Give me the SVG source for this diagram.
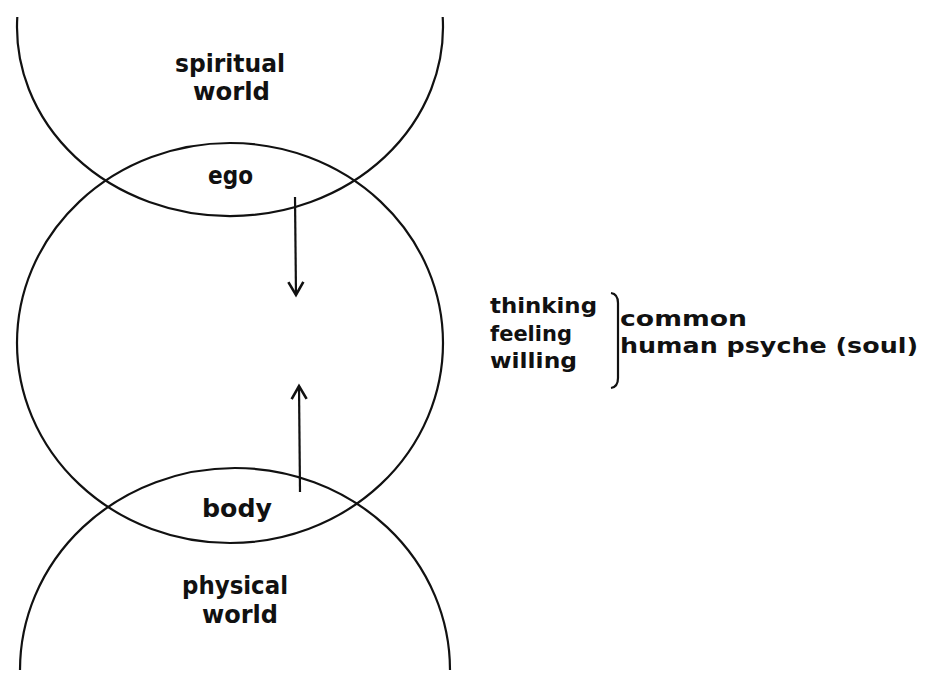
<svg xmlns="http://www.w3.org/2000/svg" width="925" height="675" viewBox="0 0 925 675">
  <style>
    .ln { fill: none; stroke: #111; stroke-width: 2.2; }
    .lbl { font-family: "DejaVu Sans", "Liberation Sans", sans-serif; font-weight: bold; fill: #111; font-size: 24px; }
    .sm { font-size: 22px; }
  </style>
  <defs>
    <marker id="ah" viewBox="-16 -10 20 20" refX="0" refY="0" markerWidth="20" markerHeight="20" orient="auto" markerUnits="userSpaceOnUse">
      <path d="M-13,-7.5 L0,0 L-13,7.5" fill="none" stroke="#111" stroke-width="2.6"/>
    </marker>
  </defs>
  <rect width="925" height="675" fill="#fff"/>

  <g id="spiritual-world">
    <path class="ln" d="M17.3,17 A213,189 0 1 0 442.7,17"/>
    <text class="lbl" x="175" y="72" textLength="110" lengthAdjust="spacingAndGlyphs">spiritual</text>
    <text class="lbl" x="193" y="100" textLength="77" lengthAdjust="spacingAndGlyphs">world</text>
  </g>

  <g id="psyche">
    <ellipse class="ln" cx="230" cy="343" rx="213" ry="200"/>
  </g>

  <g id="ego">
    <text class="lbl" x="208" y="184" textLength="45" lengthAdjust="spacingAndGlyphs">ego</text>
  </g>

  <g id="body">
    <text class="lbl" x="202" y="517" textLength="70" lengthAdjust="spacingAndGlyphs">body</text>
  </g>

  <g id="physical-world">
    <path class="ln" d="M20,670 A215,202 0 1 1 450,670"/>
    <text class="lbl" x="182" y="594" textLength="106" lengthAdjust="spacingAndGlyphs">physical</text>
    <text class="lbl" x="202" y="623" textLength="76" lengthAdjust="spacingAndGlyphs">world</text>
  </g>

  <g id="soul-legend">
    <text class="lbl sm" x="490" y="313" textLength="107" lengthAdjust="spacingAndGlyphs">thinking</text>
    <text class="lbl sm" x="490" y="341" textLength="82" lengthAdjust="spacingAndGlyphs">feeling</text>
    <text class="lbl sm" x="490" y="368" textLength="87" lengthAdjust="spacingAndGlyphs">willing</text>
    <path class="ln" d="M611,293 Q618,294 618,303 L618,378 Q618,387 611,388"/>
    <text class="lbl sm" x="620" y="326" textLength="127" lengthAdjust="spacingAndGlyphs">common</text>
    <text class="lbl sm" x="620" y="353" textLength="298" lengthAdjust="spacingAndGlyphs">human psyche (soul)</text>
  </g>

  <g id="connectors">
    <line class="ln" x1="295" y1="197" x2="296" y2="295" marker-end="url(#ah)"/>
    <line class="ln" x1="300" y1="492" x2="299" y2="386" marker-end="url(#ah)"/>
  </g>
</svg>
